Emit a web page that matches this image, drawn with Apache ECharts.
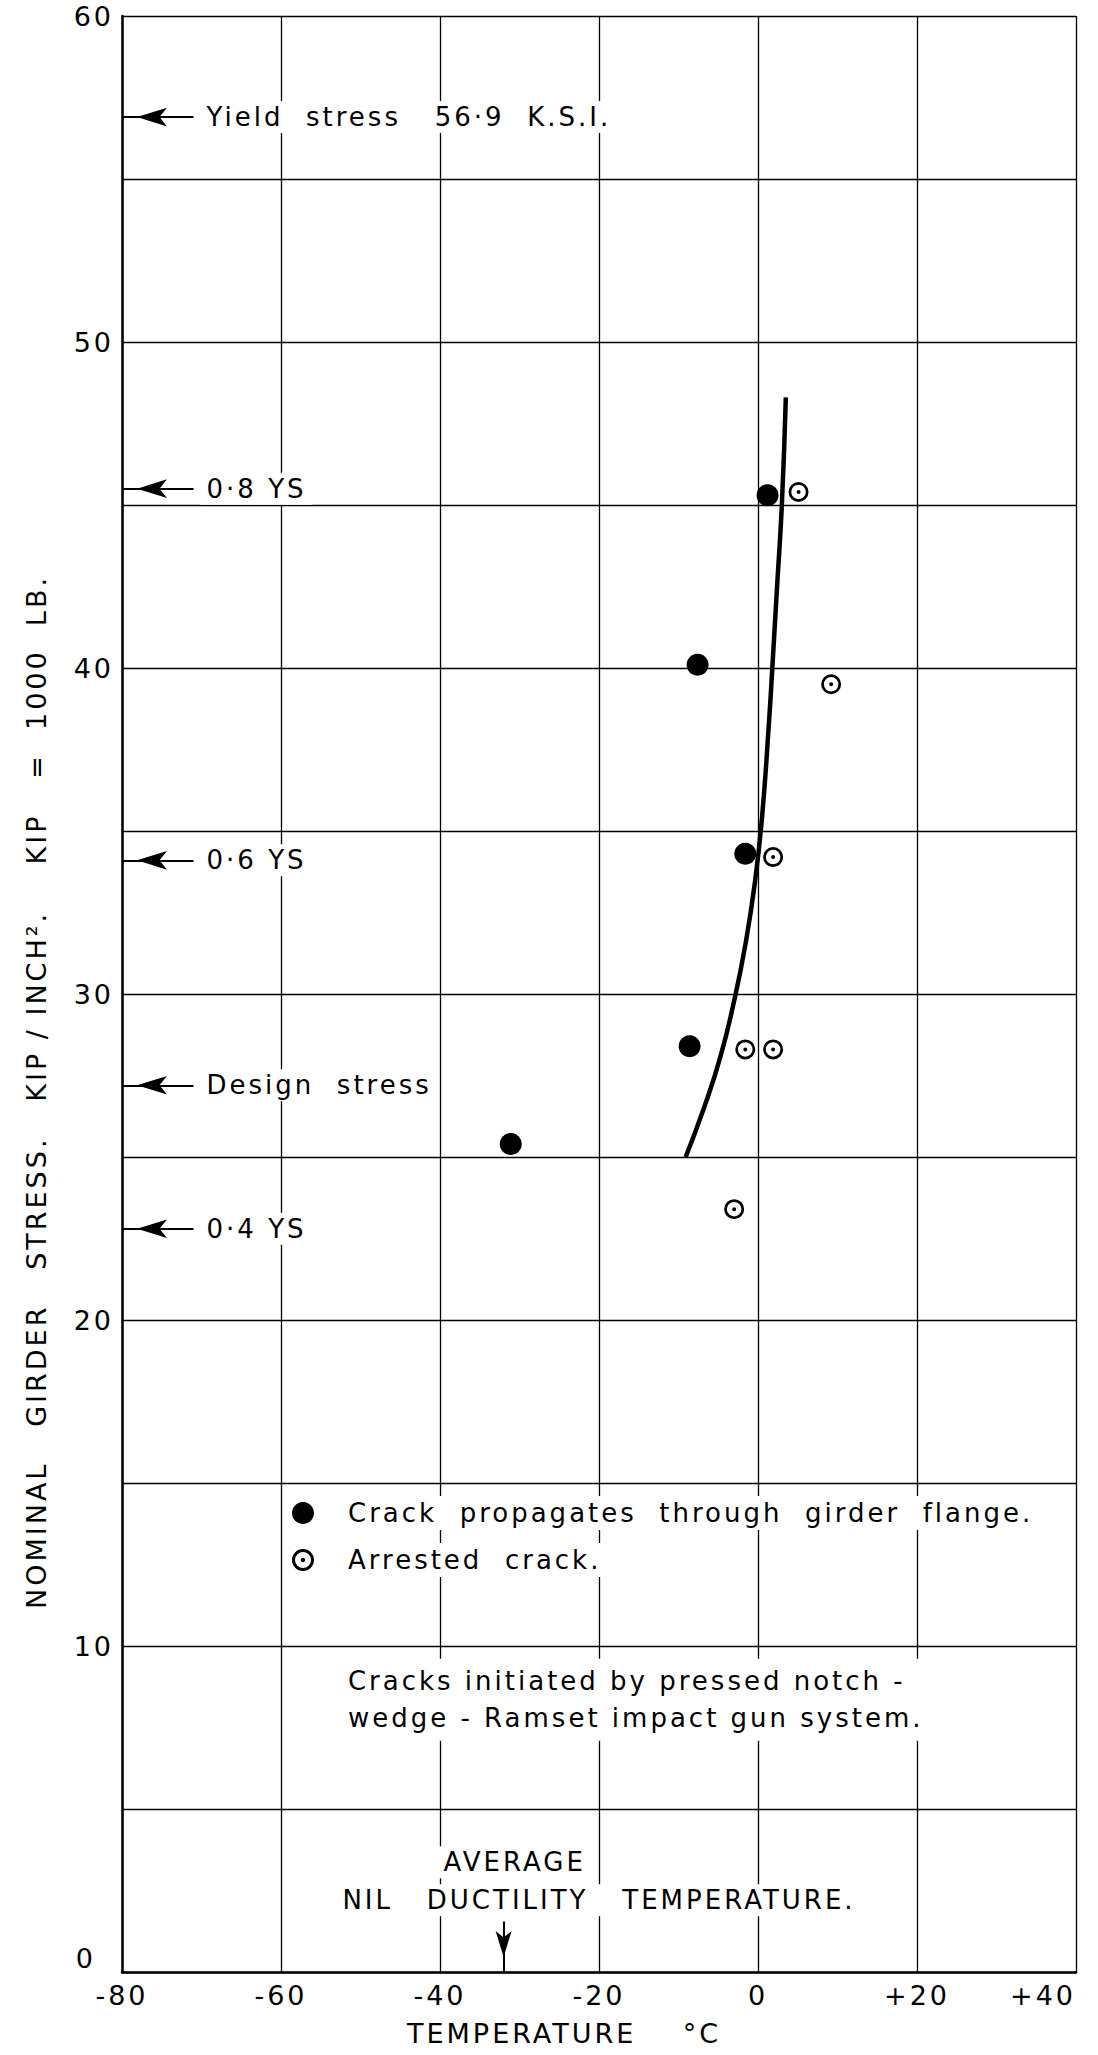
<!DOCTYPE html>
<html lang="en">
<head>
<meta charset="UTF-8">
<title>Girder stress vs temperature</title>
<script src="https://cdn.jsdelivr.net/npm/echarts@6/dist/echarts.min.js"></script>
<style>
    html, body { margin: 0; padding: 0; background: #fff; }
    #chart { width: 1098px; height: 2055px; letter-spacing: 3px; }
</style>
</head>
<body>
<div id="chart"></div>
<script>
// values: temperature in deg C, nominal stress in kip / in^2
const propagateTemp = [1.2, -7.6, -1.6, -8.6, -31.1];
const propagateStress = [45.3, 40.1, 34.3, 28.4, 25.4];
const arrestTemp = [5.1, 9.2, 1.9, -1.6, 1.9, -3.0];
const arrestStress = [45.4, 39.5, 34.2, 28.3, 28.3, 23.4];
// the hand drawn curve
const curveTemp = [-9.1, -6.8, -4.7, -2.9, -1.6, -0.4, 0.5, 1.4, 1.8, 2.4, 3.0, 3.5];
const curveStress = [25.0, 26.5, 28.1, 29.9, 31.5, 33.4, 35.4, 38.4, 40.0, 42.5, 45.0, 48.3];
// stress levels marked against the left axis
const levelNames = ['Yield  stress   56·9  K.S.I.', '0·8 YS', '0·6 YS', 'Design  stress', '0·4 YS'];
const levelStress = [56.9, 45.5, 34.1, 27.2, 22.8];
const ndtTemp = -32;

const FONT = 'DejaVu Sans';
const SPACING = 3;
const zip = (xs, ys) => xs.map((x, i) => [x, ys[i]]);
// white box behind a label, widened for the css letter spacing
const padLeft = s => [3, 6 + SPACING * s.length, 3, 6];
const padMid = s => [3, 6 + SPACING * s.length / 2, 3, 6 + SPACING * s.length / 2];

const ringDot = 'path://M1,12A11,11 0 1,1 23,12A11,11 0 1,1 1,12Z' +
    'M4,12A8,8 0 1,0 20,12A8,8 0 1,0 4,12Z' +
    'M9.8,12A2.2,2.2 0 1,1 14.2,12A2.2,2.2 0 1,1 9.8,12Z';

const levelLines = levelNames.map((name, i) => [
    {coord: [-71, levelStress[i]], name: name, label: {padding: padLeft(name)}},
    {coord: [-80, levelStress[i]]}
]);

const noteA = 'Cracks initiated by pressed notch -\nwedge - Ramset impact gun system.';
const noteB = 'AVERAGE';
const noteC = 'NIL   DUCTILITY   TEMPERATURE.';

let chart = echarts.init(document.getElementById('chart'), null, {renderer: 'svg'});
let option = {
    animation: false,
    backgroundColor: '#fff',
    textStyle: {fontFamily: FONT, color: '#000'},
    grid: {left: 122, right: 22, top: 16, bottom: 83},
    legend: {
        orient: 'vertical',
        left: 287,
        top: 1491,
        selectedMode: false,
        itemWidth: 22,
        itemHeight: 22,
        itemGap: 13,
        textStyle: {
            fontFamily: FONT, fontSize: 26, color: '#000', lineHeight: 30,
            backgroundColor: '#fff', padding: [2, 140, 2, 29]
        },
        data: [
            {name: 'Crack propagates through girder flange.', icon: 'circle'},
            {name: 'Arrested crack.', icon: ringDot}
        ],
        formatter: n => n.replace(/ /g, '  ')
    },
    xAxis: {
        type: 'value', min: -80, max: 40, interval: 20,
        name: 'TEMPERATURE    °C', nameLocation: 'middle', nameGap: 48,
        nameTextStyle: {fontFamily: FONT, fontSize: 27, color: '#000', padding: [0, 70, 0, 0]},
        axisLine: {show: true, onZero: false, lineStyle: {color: '#000', width: 2.5}},
        axisTick: {show: false},
        axisLabel: {
            fontFamily: FONT, fontSize: 27, color: '#000', margin: 10,
            alignMaxLabel: 'right',
            formatter: v => (v > 0 ? '+' + v : String(v))
        },
        splitLine: {show: true, lineStyle: {color: '#000', width: 1.3}}
    },
    yAxis: {
        type: 'value', min: 0, max: 60, interval: 10,
        name: 'NOMINAL   GIRDER   STRESS.   KIP / INCH².    KIP   =  1000  LB.',
        nameLocation: 'middle', nameGap: 72,
        nameTextStyle: {fontFamily: FONT, fontSize: 27, color: '#000', padding: [0, 196, 0, 0]},
        axisLine: {show: true, onZero: false, lineStyle: {color: '#000', width: 2.5}},
        axisTick: {show: false},
        axisLabel: {
            fontFamily: FONT, fontSize: 27, color: '#000', margin: 8,
            // the zero sits a little higher and further left, clear of -80
            formatter: v => (v === 0 ? '{zero|0}' : String(v)),
            rich: {zero: {fontFamily: FONT, fontSize: 27, color: '#000', padding: [0, 18, 28, 0]}}
        },
        splitLine: {show: true, lineStyle: {color: '#000', width: 1.3}},
        minorTick: {show: false, splitNumber: 2},
        minorSplitLine: {show: true, lineStyle: {color: '#000', width: 1.3}}
    },
    series: [
        {
            name: 'curve',
            type: 'line',
            data: zip(curveTemp, curveStress),
            smooth: 0.5,
            showSymbol: false,
            silent: true,
            z: 3,
            lineStyle: {color: '#000', width: 4.5},
            markLine: {
                silent: true,
                symbol: ['none', 'arrow'],
                symbolSize: [14, 30],
                symbolOffset: [[0, 0], [0, 15]],
                lineStyle: {type: 'solid', color: '#000', width: 2},
                label: {
                    show: true, position: 'start', distance: 7, formatter: '{b}',
                    fontFamily: FONT, fontSize: 26, color: '#000', backgroundColor: '#fff'
                },
                data: levelLines.concat([[
                    {coord: [ndtTemp, 1.55], symbol: 'none', label: {show: false}},
                    {coord: [ndtTemp, 0], symbol: 'arrow', symbolSize: [12, 26]}
                ]])
            },
            markPoint: {
                silent: true,
                symbol: 'circle',
                symbolSize: 1,
                itemStyle: {color: 'rgba(0,0,0,0)'},
                label: {
                    show: true, fontFamily: FONT, fontSize: 26, color: '#000',
                    backgroundColor: '#fff'
                },
                data: [
                    {coord: [-52.4, 8.35], label: {formatter: noteA, position: 'right', distance: 0, lineHeight: 37, padding: [4, 115, 4, 6]}},
                    {coord: [-30.6, 3.37], label: {formatter: noteB, position: 'inside', padding: padMid(noteB)}},
                    {coord: [-20, 2.2], label: {formatter: noteC, position: 'inside', padding: padMid(noteC)}}
                ]
            }
        },
        {
            name: 'Crack propagates through girder flange.',
            type: 'scatter',
            data: zip(propagateTemp, propagateStress),
            symbol: 'circle',
            symbolSize: 22,
            z: 4,
            itemStyle: {color: '#000', opacity: 1}
        },
        {
            name: 'Arrested crack.',
            type: 'scatter',
            data: zip(arrestTemp, arrestStress),
            symbol: ringDot,
            symbolSize: 20,
            z: 4,
            itemStyle: {color: '#000', opacity: 1}
        }
    ]
};
chart.setOption(option);
</script>
</body>
</html>
